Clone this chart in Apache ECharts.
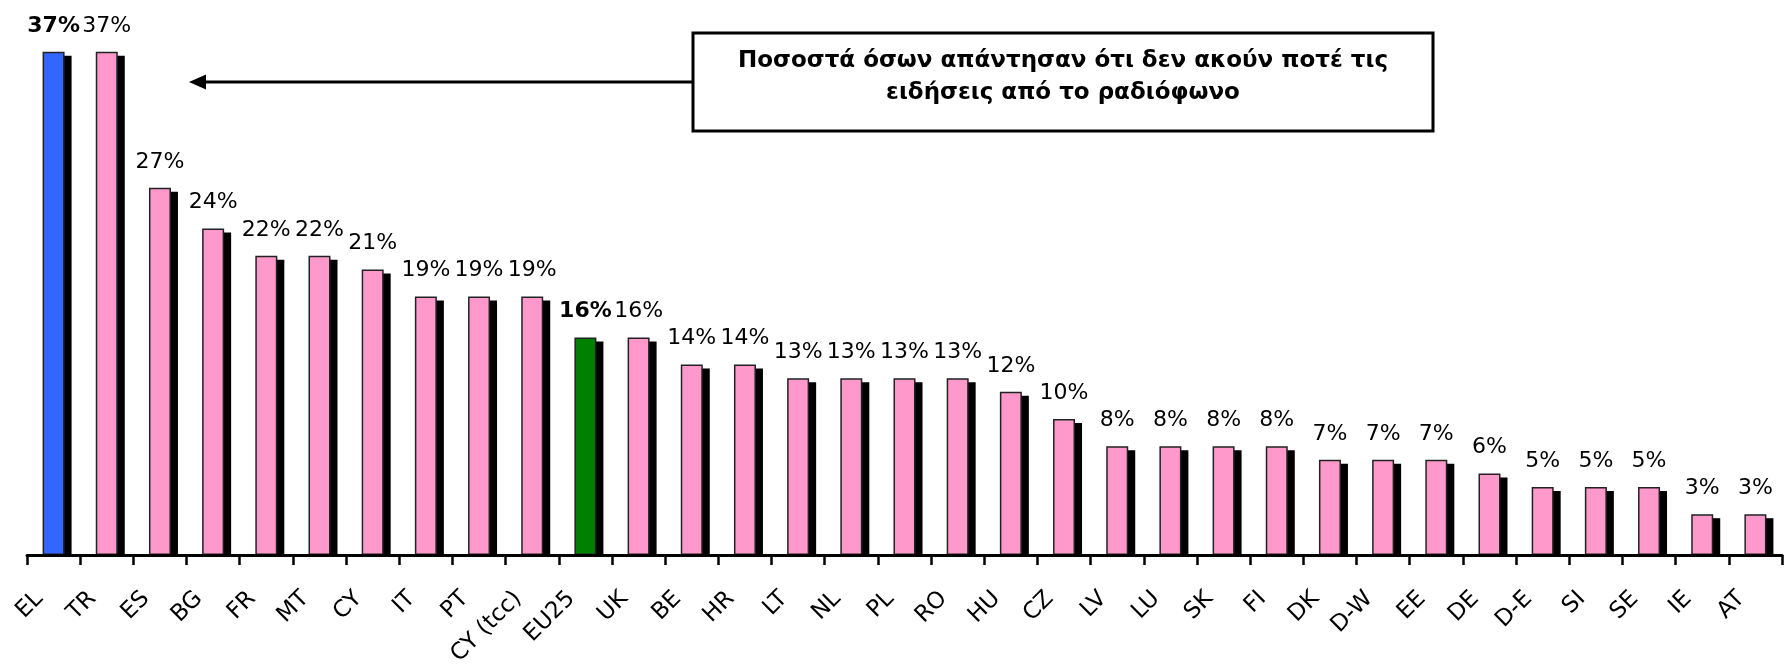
<!DOCTYPE html>
<html>
<head>
<meta charset="utf-8">
<script src="https://cdn.jsdelivr.net/npm/echarts@6/dist/echarts.min.js"></script>
<style>
  html, body { margin: 0; padding: 0; background: #fff; }
  #chart { width: 1787px; height: 671px; }
</style>
</head>
<body>
<div id="chart"></div>
<script>
// χώρες και ποσοστά (%)
var countries = ['EL', 'TR', 'ES', 'BG', 'FR', 'MT', 'CY', 'IT', 'PT', 'CY (tcc)', 'EU25',
    'UK', 'BE', 'HR', 'LT', 'NL', 'PL', 'RO', 'HU', 'CZ', 'LV', 'LU', 'SK', 'FI',
    'DK', 'D-W', 'EE', 'DE', 'D-E', 'SI', 'SE', 'IE', 'AT'];
var neverRadio = [37, 37, 27, 24, 22, 22, 21, 19, 19, 19, 16,
    16, 14, 14, 13, 13, 13, 13, 12, 10, 8, 8, 8, 8,
    7, 7, 7, 6, 5, 5, 5, 3, 3];
// ξεχωριστά χρώματα
var specialColors = { 'EL': '#3366ff', 'EU25': '#008000' };
var pink = '#ff99cc';
var yTicks = [0, 10, 20, 30, 40];

var barW = 22;       // πλάτος μπάρας
var shadowDx = 7;    // μετατόπιση σκιάς
var shadowDy = 4;

var chart = echarts.init(document.getElementById('chart'));

var barData = countries.map(function (c, i) {
    var bold = !!specialColors[c];
    return {
        value: neverRadio[i],
        itemStyle: { color: specialColors[c] || pink },
        label: { fontWeight: bold ? 'bold' : 'normal' }
    };
});
var shadowData = countries.map(function (c, i) { return [c, neverRadio[i]]; });

var option = {
    backgroundColor: '#fff',
    animation: false,
    grid: { left: 27, right: 5, top: 11, bottom: 116 },
    xAxis: {
        type: 'category',
        data: countries,
        z: 5,
        axisLine: { lineStyle: { color: '#000', width: 3 } },
        axisTick: { show: true, interval: 0, length: 10, lineStyle: { color: '#000', width: 2.5 } },
        axisLabel: {
            interval: 0,
            rotate: 45,
            margin: 26,
            padding: [0, 20, 0, 0],
            color: '#000',
            fontSize: 23,
            fontFamily: 'DejaVu Sans'
        }
    },
    yAxis: {
        type: 'value',
        min: yTicks[0],
        max: yTicks[yTicks.length - 1],
        interval: 10,
        show: false
    },
    series: [
        {   // σκιά πίσω από κάθε μπάρα
            type: 'custom',
            z: 1,
            silent: true,
            data: shadowData,
            renderItem: function (params, api) {
                var top = api.coord([api.value(0), api.value(1)]);
                var base = api.coord([api.value(0), 0]);
                return {
                    type: 'rect',
                    shape: {
                        x: top[0] - barW / 2 + shadowDx,
                        y: top[1] + shadowDy,
                        width: barW,
                        height: base[1] - top[1] - shadowDy
                    },
                    style: { fill: '#000' }
                };
            }
        },
        {
            type: 'bar',
            z: 2,
            barWidth: barW,
            data: barData,
            itemStyle: { borderColor: '#222', borderWidth: 1.5 },
            label: {
                show: true,
                position: 'top',
                distance: 15,
                color: '#000',
                fontSize: 22,
                fontFamily: 'DejaVu Sans',
                formatter: '{c}%'
            }
        }
    ],
    graphic: [
        {
            type: 'line',
            shape: { x1: 693, y1: 82, x2: 204, y2: 82 },
            style: { stroke: '#000', lineWidth: 3 }
        },
        {
            type: 'polygon',
            shape: { points: [[189, 82], [206, 74.5], [206, 89.5]] },
            style: { fill: '#000' }
        },
        {
            type: 'rect',
            shape: { x: 693, y: 33, width: 740, height: 98 },
            style: { fill: '#fff', stroke: '#000', lineWidth: 3 }
        },
        {
            type: 'text',
            x: 1063,
            y: 77,
            style: {
                text: 'Ποσοστά όσων απάντησαν ότι δεν ακούν ποτέ τις\nειδήσεις από το ραδιόφωνο',
                font: 'bold 23px "DejaVu Sans"',
                fill: '#000',
                align: 'center',
                verticalAlign: 'middle',
                lineHeight: 32
            }
        }
    ]
};

chart.setOption(option);
</script>
</body>
</html>
